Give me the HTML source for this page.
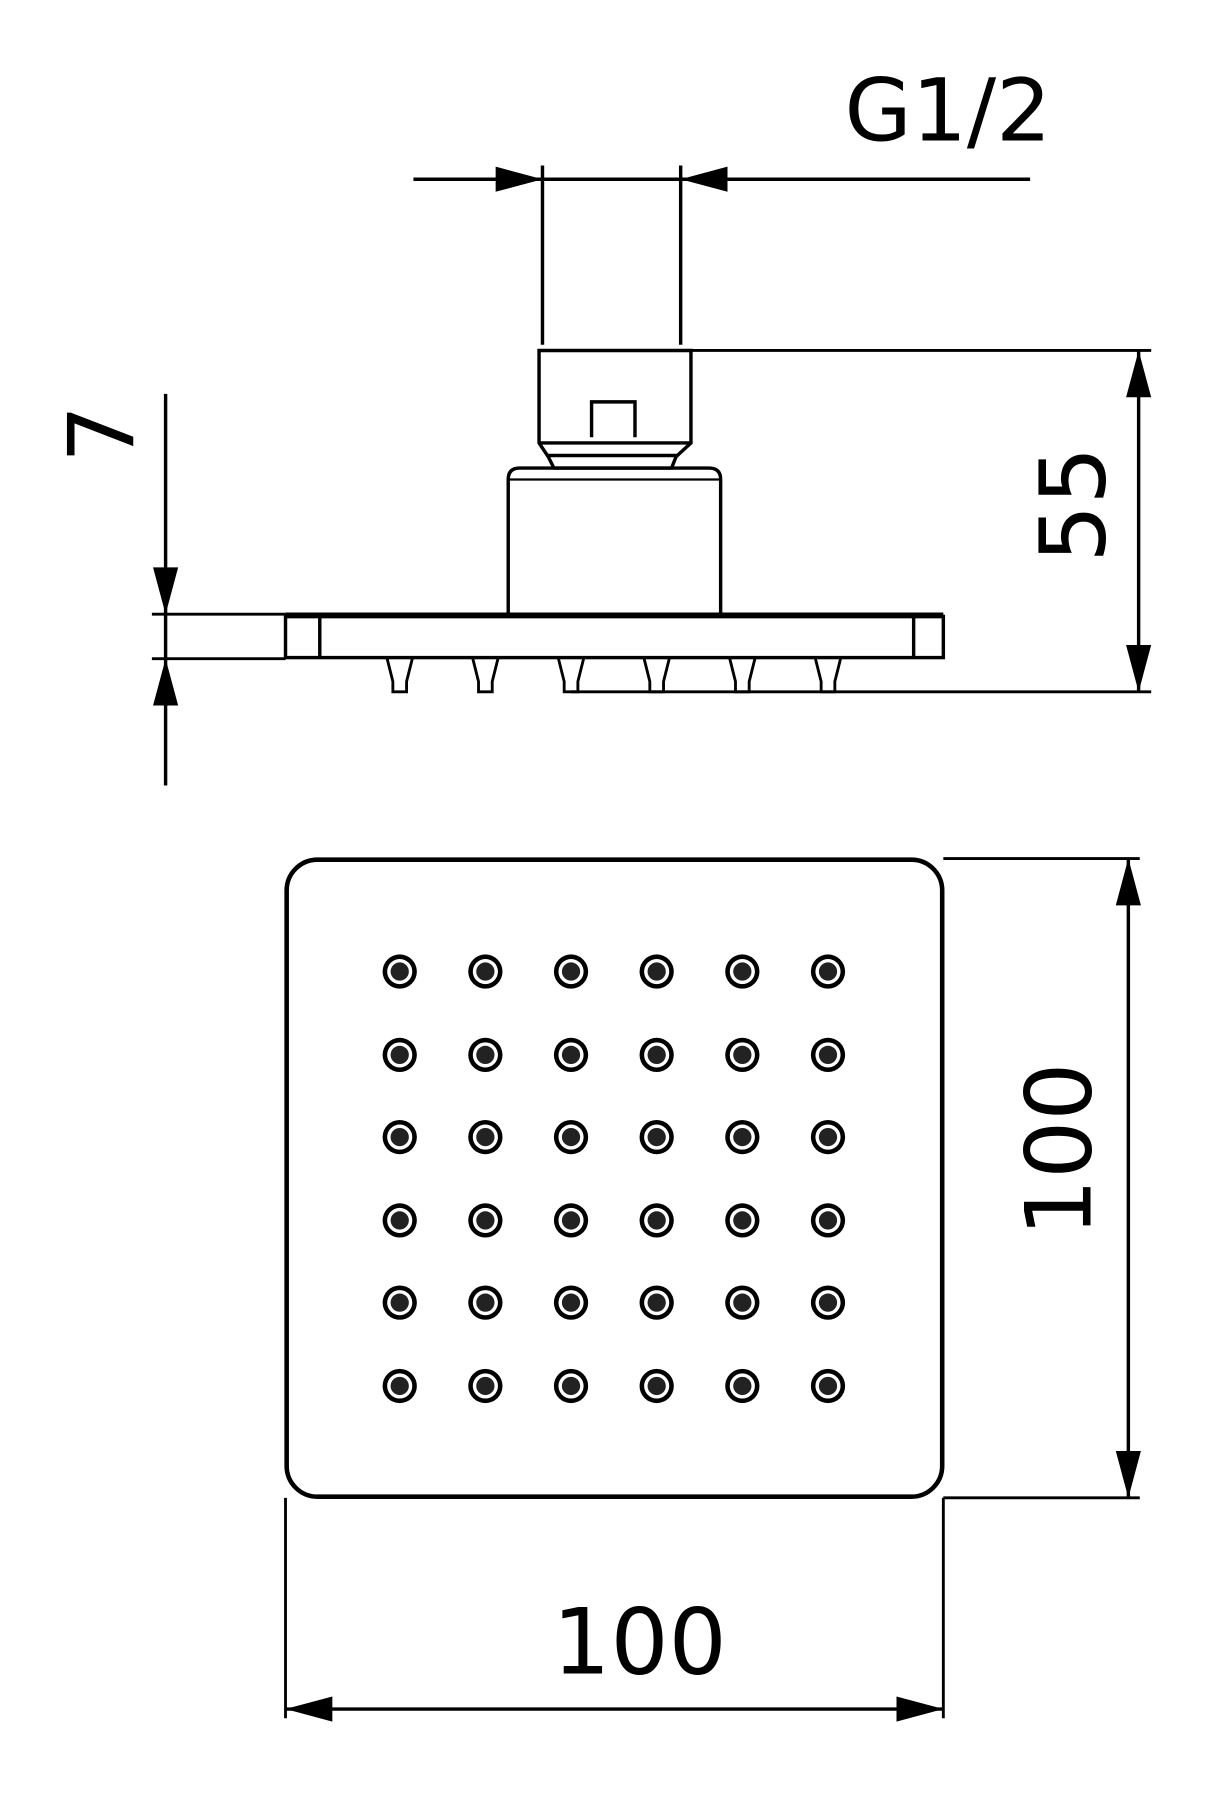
<!DOCTYPE html>
<html><head><style>html,body{margin:0;padding:0;background:#fff}svg{display:block}</style></head>
<body>
<svg width="1222" height="1794" viewBox="0 0 1070 1571.4" preserveAspectRatio="none" xmlns="http://www.w3.org/2000/svg">
<defs>
<g id="d"><circle r="15" fill="#000"/><circle r="11" fill="#fff"/><circle r="8" fill="#222"/></g>
</defs>
<g fill="none" stroke="#000" stroke-width="3">
<line x1="362" y1="157" x2="902" y2="157"/>
<line x1="475" y1="145" x2="475" y2="302"/>
<line x1="596" y1="145" x2="596" y2="302"/>
<path d="M472 307 H605 V388 L592 400 L588 410 H485 L480 400 L472 388 Z"/>
<line x1="472" y1="388" x2="605" y2="388"/>
<line x1="480" y1="399" x2="594" y2="399"/>
<path d="M518 383 V352 H556 V383"/>
<line x1="605" y1="307" x2="1008" y2="307" stroke-width="2.5"/>
<path d="M445 538 V420 Q445 410 455 410 H621 Q631 410 631 420 V538"/>
<line x1="446" y1="420" x2="630" y2="420" stroke-width="2"/>
<rect x="250" y="540" width="576" height="36"/>
<line x1="250" y1="539" x2="826" y2="539" stroke-width="5"/>
<line x1="280" y1="540" x2="280" y2="576"/>
<line x1="800" y1="540" x2="800" y2="576"/>
<g stroke-width="2.5">
<path d="M339 577 L344 597 V606 H356 V597 L361 577"/>
<path d="M414 577 L419 597 V606 H431 V597 L436 577"/>
<path d="M489 577 L494 597 V606 H506 V597 L511 577"/>
<path d="M564 577 L569 597 V606 H581 V597 L586 577"/>
<path d="M639 577 L644 597 V606 H656 V597 L661 577"/>
<path d="M714 577 L719 597 V606 H731 V597 L736 577"/>
</g>
<line x1="500" y1="606" x2="1008" y2="606" stroke-width="2.5"/>
<line x1="997" y1="307" x2="997" y2="606"/>
<line x1="145" y1="345" x2="145" y2="688"/>
<line x1="133" y1="538" x2="250" y2="538" stroke-width="2.5"/>
<line x1="133" y1="577" x2="250" y2="577" stroke-width="2.5"/>
<rect x="251" y="753" width="574" height="558" rx="27" stroke-width="4"/>
<line x1="826" y1="752" x2="998" y2="752" stroke-width="2.5"/>
<line x1="826" y1="1312" x2="998" y2="1312" stroke-width="2.5"/>
<line x1="988" y1="752" x2="988" y2="1312"/>
<line x1="250" y1="1312" x2="250" y2="1505" stroke-width="2.5"/>
<line x1="826" y1="1312" x2="826" y2="1505" stroke-width="2.5"/>
<line x1="250" y1="1497" x2="826" y2="1497"/>
</g>
<g fill="#000">
<polygon points="475,157 434,146 434,168"/>
<polygon points="596,157 637,146 637,168"/>
<polygon points="997,307 986,348 1008,348"/>
<polygon points="997,606 986,565 1008,565"/>
<polygon points="145,538 134,497 156,497"/>
<polygon points="145,577 134,618 156,618"/>
<polygon points="988,752 977,793 999,793"/>
<polygon points="988,1312 977,1271 999,1271"/>
<polygon points="250,1497 291,1486 291,1508"/>
<polygon points="826,1497 785,1486 785,1508"/>
</g>
<g>
<use href="#d" x="350" y="851"/><use href="#d" x="425" y="851"/><use href="#d" x="500" y="851"/><use href="#d" x="575" y="851"/><use href="#d" x="650" y="851"/><use href="#d" x="725" y="851"/>
<use href="#d" x="350" y="924"/><use href="#d" x="425" y="924"/><use href="#d" x="500" y="924"/><use href="#d" x="575" y="924"/><use href="#d" x="650" y="924"/><use href="#d" x="725" y="924"/>
<use href="#d" x="350" y="996"/><use href="#d" x="425" y="996"/><use href="#d" x="500" y="996"/><use href="#d" x="575" y="996"/><use href="#d" x="650" y="996"/><use href="#d" x="725" y="996"/>
<use href="#d" x="350" y="1069"/><use href="#d" x="425" y="1069"/><use href="#d" x="500" y="1069"/><use href="#d" x="575" y="1069"/><use href="#d" x="650" y="1069"/><use href="#d" x="725" y="1069"/>
<use href="#d" x="350" y="1141"/><use href="#d" x="425" y="1141"/><use href="#d" x="500" y="1141"/><use href="#d" x="575" y="1141"/><use href="#d" x="650" y="1141"/><use href="#d" x="725" y="1141"/>
<use href="#d" x="350" y="1214"/><use href="#d" x="425" y="1214"/><use href="#d" x="500" y="1214"/><use href="#d" x="575" y="1214"/><use href="#d" x="650" y="1214"/><use href="#d" x="725" y="1214"/>
</g>
<g font-family="'DejaVu Sans','Liberation Sans',sans-serif" fill="#000" font-size="76">
<text x="830" y="123" text-anchor="middle">G1/2</text>
<text x="560" y="1466" text-anchor="middle" font-size="80">100</text>
<text transform="translate(967,442) rotate(-90)" text-anchor="middle" font-size="80">55</text>
<text transform="translate(955,1007) rotate(-90)" text-anchor="middle" font-size="80">100</text>
<text transform="translate(117,380) rotate(-90)" text-anchor="middle" font-size="80">7</text>
</g>
</svg>
</body></html>
